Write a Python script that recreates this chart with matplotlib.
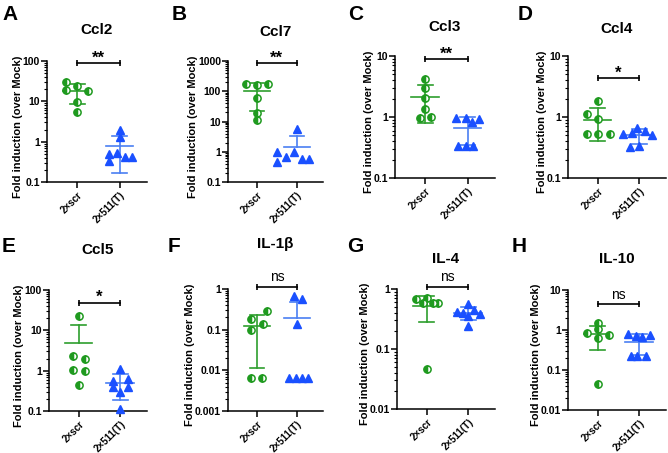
import matplotlib
matplotlib.use('Agg')
import matplotlib.pyplot as plt
from matplotlib.ticker import LogLocator, FuncFormatter, NullFormatter
import numpy as np

plt.rcParams.update({
    'font.family': ['Liberation Sans', 'DejaVu Sans'],
    'font.weight': 'bold',
    'axes.linewidth': 1.1,
})

# ---- data (fold induction over Mock) ----
letters = ['A', 'B', 'C', 'D', 'E', 'F', 'G', 'H']
genes = ['Ccl2', 'Ccl7', 'Ccl3', 'Ccl4', 'Ccl5', 'IL-1β', 'IL-4', 'IL-10']
groups = ['2×scr', '2×511(T)']
signif = ['**', '**', '**', '*', '*', 'ns', 'ns', 'ns']
bracket_y = [88, 840, 8.8, 4.3, 48, 1.15, 1.1, 4.4]
ylims = [(0.1, 100), (0.1, 1000), (0.1, 10), (0.1, 10),
         (0.1, 100), (0.001, 1), (0.01, 1), (0.01, 10)]

scr_vals = [
    [29.6, 24, 19.1, 18, 9.4, 5.4],
    [175, 160, 180, 60, 19.2, 11.6],
    [4.16, 3.0, 2.08, 1.34, 0.95, 1.0],
    [1.81, 1.1, 0.94, 0.53, 0.53, 0.53],
    [22.7, 2.36, 1.95, 1.04, 0.96, 0.45],
    [0.29, 0.18, 0.135, 0.1, 0.0065, 0.0065],
    [0.68, 0.70, 0.58, 0.59, 0.58, 0.046],
    [1.52, 1.04, 0.86, 0.75, 0.62, 0.045],
]
scr_jitter = [
    [-0.27, 0, -0.27, 0.26, 0, 0],
    [-0.27, 0, 0.27, 0, 0, 0],
    [0, 0, 0, 0, -0.13, 0.14],
    [0, -0.27, 0, -0.27, 0, 0.29],
    [0, -0.15, 0.15, -0.15, 0.15, 0],
    [0.26, -0.15, 0.15, -0.15, -0.15, 0.12],
    [-0.27, 0, -0.1, 0.14, 0.28, 0],
    [0, 0, -0.27, 0.28, 0, 0],
]
t_vals = [
    [1.95, 1.28, 0.485, 0.53, 0.425, 0.425, 0.33],
    [5.6, 1.0, 1.0, 0.65, 0.56, 0.56, 0.47],
    [0.96, 0.96, 0.83, 0.94, 0.33, 0.33, 0.33],
    [0.67, 0.52, 0.55, 0.6, 0.5, 0.32, 0.33],
    [1.1, 0.62, 0.56, 0.4, 0.4, 0.3, 0.11],
    [0.66, 0.565, 0.135, 0.0065, 0.0065, 0.0065, 0.0065],
    [0.56, 0.45, 0.42, 0.40, 0.38, 0.36, 0.24],
    [0.78, 0.72, 0.66, 0.75, 0.22, 0.22, 0.22],
]
t_jitter = [
    [0, 0, -0.25, -0.07, 0.13, 0.3, -0.25],
    [0, -0.5, -0.08, -0.28, 0.12, 0.3, -0.5],
    [-0.27, -0.04, 0.1, 0.28, -0.22, -0.04, 0.14],
    [-0.06, -0.38, -0.18, 0.14, 0.31, -0.22, 0],
    [0, 0.18, -0.18, 0.18, -0.18, 0, 0],
    [-0.07, 0.12, 0, -0.19, -0.02, 0.12, 0.28],
    [0, 0.14, -0.28, -0.12, 0.28, 0, 0],
    [-0.27, -0.08, 0.08, 0.26, -0.2, -0.04, 0.16],
]

# ---- layout in pixels: axes (left, top, right, bottom), title y, letter (x, y) ----
W, H = 668, 453
axes_px = [(47, 61, 147, 182), (228, 61, 323, 182), (395, 56, 495, 178), (568, 56, 666, 178),
           (49, 290, 147, 411), (228, 289, 323, 411), (397, 289, 495, 409), (568, 290, 666, 410)]
title_y = [30, 32, 27, 29, 250, 244, 259, 259]
letter_xy = [(2, 14), (172, 14), (348, 14), (518, 14),
             (2, 247), (168, 247), (347, 247), (512, 247)]
ylabel_off = [24, 30, 21, 21, 25, 33, 27, 27]

green = '#1f9a1f'
green_line = '#2e9e2e'
blue = '#1a50ff'
blue_line = '#4a7ff2'

fig = plt.figure(figsize=(W / 100, H / 100), dpi=100)


def fmt(v, pos):
    return f'{v:g}'


def mean_sd(ax, x, vals, color):
    m = np.mean(vals)
    sd = np.std(vals, ddof=1)
    ax.plot([x - 0.33, x + 0.33], [m, m], color=color, lw=1.2, zorder=2)
    top = m + sd
    low = m - sd
    ax.plot([x, x], [low if low > 0 else m, top], color=color, lw=1.2, zorder=2)
    ax.plot([x - 0.18, x + 0.18], [top, top], color=color, lw=1.2, zorder=2)
    if low > 0:
        ax.plot([x - 0.18, x + 0.18], [low, low], color=color, lw=1.2, zorder=2)


for i in range(8):
    l, t, r, b = axes_px[i]
    ax = fig.add_axes([l / W, 1 - b / H, (r - l) / W, (b - t) / H])
    ax.set_yscale('log')
    ax.set_ylim(*ylims[i])
    ax.set_xlim(-0.72, 1.65)
    for s in ['top', 'right']:
        ax.spines[s].set_visible(False)

    xs = 0 + np.array(scr_jitter[i])
    ax.plot(xs, scr_vals[i], 'o', ms=5.2, mfc=green, mfcalt='white', fillstyle='left',
            mec=green, mew=1.1, ls='none', zorder=3, clip_on=False)
    xt = 1 + np.array(t_jitter[i])
    ax.plot(xt, t_vals[i], '^', ms=5.2, color=blue, mec=blue, ls='none', zorder=3, clip_on=False)
    mean_sd(ax, 0, scr_vals[i], green_line)
    mean_sd(ax, 1, t_vals[i], blue_line)

    # significance bracket
    by = bracket_y[i]
    ax.plot([0, 1], [by, by], color='black', lw=1.2, clip_on=False)
    ax.plot([0, 1], [by, by], ls='none', marker='|', ms=5, mew=1.2, color='black', clip_on=False)
    if signif[i] == 'ns':
        ax.annotate('ns', (0.5, by), xytext=(0, 1.5), textcoords='offset points',
                    ha='center', va='bottom', fontsize=10, fontweight='normal',
                    annotation_clip=False)
    else:
        ax.annotate(signif[i], (0.5, by), xytext=(0, -1.5), textcoords='offset points',
                    ha='center', va='bottom', fontsize=12, fontweight='bold',
                    annotation_clip=False)

    ax.yaxis.set_major_locator(LogLocator(base=10, numticks=10))
    ax.yaxis.set_minor_locator(LogLocator(base=10, subs=np.arange(2, 10), numticks=10))
    ax.yaxis.set_major_formatter(FuncFormatter(fmt))
    ax.yaxis.set_minor_formatter(NullFormatter())
    ax.tick_params(axis='y', which='major', length=4, width=1.1, labelsize=7.5, pad=1)
    ax.tick_params(axis='y', which='minor', length=2, width=0.8)
    ax.set_xticks([0, 1])
    ax.set_xticklabels(groups, rotation=45, ha='right', rotation_mode='anchor',
                       fontsize=7, fontweight='bold')
    ax.tick_params(axis='x', length=4, width=1.1, pad=1.5)
    for lab in ax.get_yticklabels():
        lab.set_fontweight('bold')

    ax.set_ylabel('Fold induction (over Mock)', fontsize=8, fontweight='bold')
    ax.yaxis.set_label_coords(-ylabel_off[i] / (r - l), 0.46)

    fig.text((l + r) / 2 / W, 1 - title_y[i] / H, genes[i], ha='center', va='center',
             fontsize=11, fontweight='bold')
    fig.text(letter_xy[i][0] / W, 1 - letter_xy[i][1] / H, letters[i], ha='left', va='center',
             fontsize=15, fontweight='bold')

fig.savefig('out.png', dpi=100)
